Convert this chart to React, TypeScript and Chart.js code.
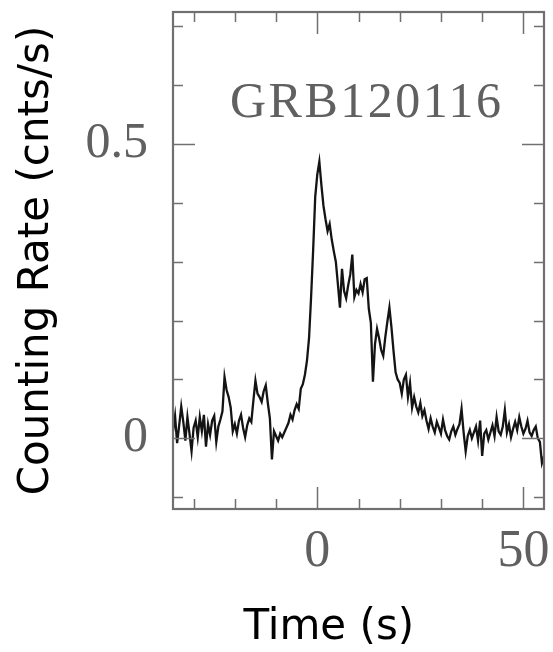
import React, { useEffect, useRef } from 'react';
import { Chart, registerables } from 'chart.js';

Chart.register(...registerables);

// Light curve of GRB120116: background-subtracted counting rate in 0.5 s bins
const BURST_NAME = 'GRB120116';
const X_TITLE = 'Time (s)';
const Y_TITLE = 'Counting Rate (cnts/s)';

const X_MIN = -35;
const X_MAX = 55;
const Y_MIN = -0.12;
const Y_MAX = 0.724;
const X_STEP = 10;
const Y_STEP = 0.1;
const X_LABELED = [0, 50];
const Y_LABELED = [0, 0.5];

const BIN_START = -35;
const BIN_WIDTH = 0.5;

// -35.0 s .. -4.0 s
const preBurst = [
  0.012, 0.038, -0.008, 0.022, 0.054, 0.028, -0.004, 0.036, 0.008, -0.022,
  0.018, 0.030, 0.002, 0.036, 0.012, 0.040, -0.014, 0.024, 0.006, 0.030,
  0.038, -0.006, 0.020, 0.032, 0.046, 0.104, 0.082, 0.070, 0.052, 0.012,
  0.024, 0.008, 0.030, 0.040, 0.018, 0.002, 0.022, 0.034, 0.028, 0.064,
  0.098, 0.076, 0.070, 0.062, 0.080, 0.090, 0.060, 0.034, -0.036, 0.012,
  0.004, -0.004, 0.008, 0.002, 0.010, 0.018, 0.026, 0.040, 0.032, 0.048,
  0.058, 0.050, 0.084,
];

// -3.5 s .. 20.0 s
const burst = [
  0.092, 0.108, 0.132, 0.170, 0.240, 0.320, 0.410, 0.448, 0.470, 0.430,
  0.395, 0.372, 0.352, 0.364, 0.338, 0.318, 0.300, 0.262, 0.222, 0.288,
  0.250, 0.238, 0.260, 0.278, 0.312, 0.240, 0.252, 0.246, 0.262, 0.248,
  0.270, 0.272, 0.220, 0.196, 0.096, 0.160, 0.186, 0.170, 0.150, 0.140,
  0.172, 0.198, 0.222, 0.188, 0.148, 0.112, 0.100, 0.094,
];

// 20.5 s .. 55.0 s
const tail = [
  0.076, 0.100, 0.108, 0.070, 0.094, 0.052, 0.070, 0.054, 0.044, 0.060,
  0.038, 0.048, 0.030, 0.016, 0.034, 0.020, 0.010, 0.028, 0.018, 0.008,
  0.032, 0.014, 0.004, -0.002, 0.012, 0.020, 0.006, 0.016, 0.024, 0.050,
  0.010, -0.022, 0.004, 0.014, 0.000, 0.010, 0.020, -0.004, 0.030, -0.030,
  0.008, 0.014, -0.002, 0.010, 0.022, 0.004, 0.036, 0.012, 0.006, 0.020,
  0.048, 0.010, 0.024, 0.002, 0.016, 0.028, 0.014, 0.036, 0.020, 0.008,
  0.016, 0.030, 0.010, 0.004, 0.014, 0.020, 0.000, -0.006, -0.042, -0.030,
];

const rates = [...preBurst, ...burst, ...tail];
const points = rates.map((r, i) => ({ x: BIN_START + i * BIN_WIDTH, y: r }));

const SERIF = "'Liberation Serif', 'Times New Roman', serif";
const SANS = "'DejaVu Sans', Verdana, sans-serif";
const FRAME = '#707070';
const LABEL_GREY = '#606060';

const isOneOf = (v: number, list: number[]) => list.some((m) => Math.abs(m - v) < 1e-6);

// multiples of a step that fall inside [min, max]
const stepValues = (min: number, max: number, step: number) => {
  const out: number[] = [];
  for (let k = Math.ceil(min / step - 1e-9); k * step <= max + 1e-9; k++) out.push(k * step);
  return out;
};

// Boxed frame with inward ticks on all four sides, the burst name and the time caption
const framePlugin = {
  id: 'lightCurveFrame',
  afterDatasetsDraw(chart: any) {
    const { ctx, chartArea: a, scales } = chart;
    const xs = scales.x;
    const ys = scales.y;
    const w = a.right - a.left;
    const h = a.bottom - a.top;
    ctx.save();
    ctx.strokeStyle = FRAME;
    ctx.lineWidth = 1.5;
    ctx.beginPath();
    for (const v of stepValues(X_MIN, X_MAX, X_STEP)) {
      const len = isOneOf(v, X_LABELED) ? 22 : 10;
      const px = Math.round(xs.getPixelForValue(v)) + 0.5;
      ctx.moveTo(px, a.bottom);
      ctx.lineTo(px, a.bottom - len);
      ctx.moveTo(px, a.top);
      ctx.lineTo(px, a.top + len);
    }
    for (const v of stepValues(Y_MIN, Y_MAX, Y_STEP)) {
      const len = isOneOf(v, Y_LABELED) ? 22 : 10;
      const py = Math.round(ys.getPixelForValue(v)) + 0.5;
      ctx.moveTo(a.left, py);
      ctx.lineTo(a.left + len, py);
      ctx.moveTo(a.right, py);
      ctx.lineTo(a.right - len, py);
    }
    ctx.stroke();
    ctx.lineWidth = 2.2;
    ctx.strokeRect(a.left, a.top, w, h);

    // burst designation inside the frame
    ctx.fillStyle = LABEL_GREY;
    ctx.font = `50px ${SERIF}`;
    (ctx as any).letterSpacing = '2.5px';
    ctx.textAlign = 'center';
    ctx.textBaseline = 'alphabetic';
    ctx.fillText(BURST_NAME, a.left + 0.522 * w, a.top + 0.211 * h);
    (ctx as any).letterSpacing = '0px';

    // horizontal axis caption
    ctx.fillStyle = '#000';
    ctx.font = `42px ${SANS}`;
    ctx.fillText(X_TITLE, a.left + 0.42 * w, chart.height - 13);
    ctx.restore();
  },
};

export default function App() {
  const canvasRef = useRef<HTMLCanvasElement | null>(null);

  useEffect(() => {
    if (!canvasRef.current) return;
    const chart = new Chart(canvasRef.current, {
      type: 'line',
      data: {
        datasets: [
          {
            label: BURST_NAME,
            data: points,
            borderColor: '#141414',
            borderWidth: 2.3,
            pointRadius: 0,
            tension: 0,
            fill: false,
          },
        ],
      },
      options: {
        animation: false,
        responsive: false,
        events: [],
        layout: { padding: { top: 12, right: 9, left: 0, bottom: 0 } },
        plugins: {
          legend: { display: false },
          tooltip: { enabled: false },
          title: { display: false },
        },
        scales: {
          x: {
            type: 'linear',
            min: X_MIN,
            max: X_MAX,
            grid: { display: false, drawTicks: false },
            border: { display: false },
            ticks: {
              autoSkip: false,
              maxRotation: 0,
              padding: 12,
              color: LABEL_GREY,
              font: { family: SERIF, size: 52 },
              callback: (v: any) => String(v),
            },
            afterBuildTicks: (scale: any) => {
              scale.ticks = X_LABELED.map((value) => ({ value }));
            },
            afterFit: (scale: any) => {
              scale.height = 143;
              scale.paddingLeft = 0;
              scale.paddingRight = 0;
            },
          },
          y: {
            type: 'linear',
            min: Y_MIN,
            max: Y_MAX,
            grid: { display: false, drawTicks: false },
            border: { display: false },
            title: {
              display: true,
              text: Y_TITLE,
              color: '#000',
              font: { family: SANS, size: 42, lineHeight: 1.2 },
              padding: { top: 12, bottom: 0 },
            },
            ticks: {
              autoSkip: false,
              padding: 25,
              color: LABEL_GREY,
              font: { family: SERIF, size: 50 },
              callback: (v: any) => String(v),
            },
            afterBuildTicks: (scale: any) => {
              scale.ticks = Y_LABELED.map((value) => ({ value }));
            },
            afterFit: (scale: any) => {
              scale.width = 173;
              scale.paddingTop = 0;
              scale.paddingBottom = 0;
            },
          },
        },
      },
      plugins: [framePlugin],
    } as any);
    return () => chart.destroy();
  }, []);

  return (
    <div style={{ position: 'fixed', left: 0, top: 0, width: 553, height: 652, background: '#fff' }}>
      <canvas ref={canvasRef} width={553} height={652} />
    </div>
  );
}
